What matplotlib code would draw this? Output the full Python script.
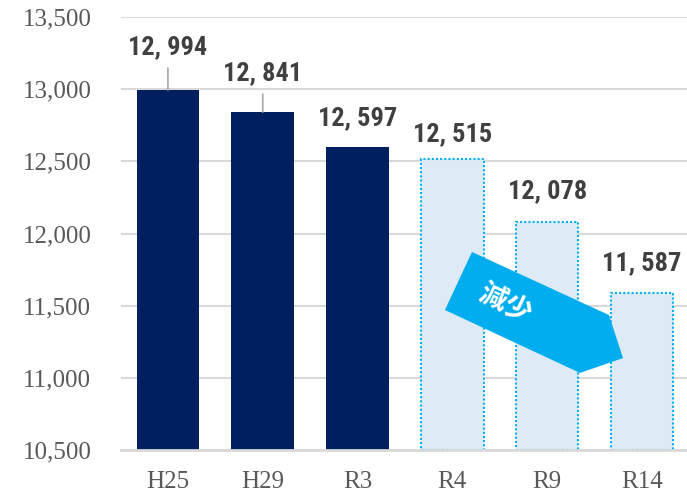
import matplotlib
matplotlib.use("Agg")
import matplotlib.pyplot as plt
from matplotlib.patches import Polygon

categories = ["H25", "H29", "R3", "R4", "R9", "R14"]
values = [12994, 12841, 12597, 12515, 12078, 11587]
is_projection = [False, False, False, True, True, True]
value_labels = ["12, 994", "12, 841", "12, 597", "12, 515", "12, 078", "11, 587"]
y_ticks = [10500, 11000, 11500, 12000, 12500, 13000, 13500]
arrow_text = "減少"

# layout (not data)
label_offsets_px = [31, 27, 17, 13, 19, 18]
leader = [True, True, False, False, False, False]

fig = plt.figure(figsize=(6.87, 4.95), dpi=100)
ax = fig.add_axes([120.5/687, 45/495, 566.5/687, 433/495])

x = list(range(len(categories)))
actual_color = "#001F5F"
proj_fill = "#DEEBF7"
proj_edge = "#00B0F0"

for xi, v, proj in zip(x, values, is_projection):
    if proj:
        ax.bar(xi, v - 10500, bottom=10500, width=0.66, color=proj_fill,
               edgecolor=proj_edge, linestyle=(0, (1, 1)), linewidth=1.5, zorder=3)
    else:
        ax.bar(xi, v - 10500, bottom=10500, width=0.66, color=actual_color,
               edgecolor="none", zorder=3)

ax.set_xlim(-0.5, 5.475)
ax.set_ylim(10500, 13500)
ax.set_yticks(y_ticks)
ax.set_yticklabels([f"{t:,}" for t in y_ticks])
ax.set_xticks(x)
ax.set_xticklabels(categories)
for lab in ax.get_xticklabels() + ax.get_yticklabels():
    lab.set_fontfamily("Liberation Serif")
    lab.set_fontsize(18)
    lab.set_color("#595959")
ax.tick_params(axis="both", length=0)
ax.tick_params(axis="y", pad=21)
ax.tick_params(axis="x", pad=15)

ax.grid(axis="y", color="#D9D9D9", linewidth=1.5, zorder=0)
for s in ["top", "right", "left"]:
    ax.spines[s].set_visible(False)
ax.spines["bottom"].set_color("#D9D9D9")
ax.spines["bottom"].set_linewidth(2)
ax.spines["bottom"].set_zorder(4)

label_family = ["DejaVu Sans Condensed", "Roboto Condensed", "Liberation Sans Narrow", "DejaVu Sans"]
for xi, v, lbl, off, ld in zip(x, values, value_labels, label_offsets_px, leader):
    ax.annotate(lbl, xy=(xi, v), xytext=(0, off * 0.72), textcoords="offset points",
                ha="center", va="bottom", fontsize=19, fontweight="bold",
                family=label_family, color="#404040", zorder=5)
    if ld:
        ax.annotate("", xy=(xi, v), xytext=(0, (off - 9) * 0.72),
                    textcoords="offset points",
                    arrowprops=dict(arrowstyle="-", color="#A6A6A6", lw=1.2,
                                    shrinkA=0, shrinkB=0), zorder=5)

arrow_pts = [(3.207, 11872), (4.652, 11435), (4.800, 11137), (4.346, 11034), (2.922, 11470)]
ax.add_patch(Polygon(arrow_pts, closed=True, facecolor="#00AEEF", edgecolor="none", zorder=6))
ax.text(3.56, 11510, arrow_text, rotation=-25, ha="center", va="center",
        fontsize=20, fontweight="bold", color="white",
        family=["Noto Sans CJK JP", "DejaVu Sans"], zorder=7,
        rotation_mode="anchor")

fig.savefig("out.png", dpi=100)
